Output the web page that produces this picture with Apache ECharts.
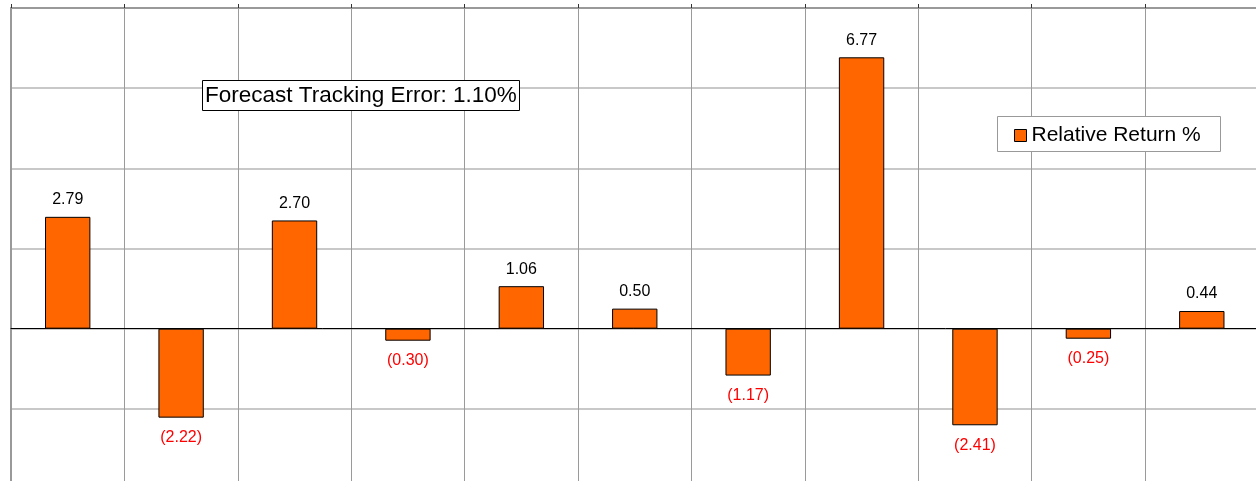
<!DOCTYPE html>
<html>
<head>
<meta charset="utf-8">
<script src="https://cdn.jsdelivr.net/npm/echarts@6/dist/echarts.min.js"></script>
<style>
  html, body { margin: 0; padding: 0; background: #fff; }
  #chart { width: 1256px; height: 481px; }
</style>
</head>
<body>
<div id="chart"></div>
<script>
// 数据
var categories = ["1", "2", "3", "4", "5", "6", "7", "8", "9", "10", "11"];
var relativeReturn = [2.79, -2.22, 2.70, -0.30, 1.06, 0.50, -1.17, 6.77, -2.41, -0.25, 0.44];
var trackingErrorText = "Forecast Tracking Error: 1.10%";

var fontFamily = "Liberation Sans, Arial, sans-serif";

// 负值：红色、括号、标签在下面
var barData = relativeReturn.map(function (v) {
  var neg = v < 0;
  return {
    value: v,
    label: {
      position: neg ? "bottom" : "top",
      distance: neg ? 12 : 9,
      color: neg ? "#ff0000" : "#000",
      formatter: neg ? "(" + Math.abs(v).toFixed(2) + ")" : v.toFixed(2)
    }
  };
});

var myChart = echarts.init(document.getElementById("chart"));
myChart.setOption({
  animation: false,
  title: {
    text: trackingErrorText,
    left: 202,
    top: 80,
    padding: [4, 3, 4, 3],
    borderColor: "#000",
    borderWidth: 1,
    backgroundColor: "#fff",
    textStyle: { fontFamily: fontFamily, fontSize: 22.5, fontWeight: "normal", color: "#000" }
  },
  // 图例边框
  graphic: [
    {
      type: "rect",
      z: 90,
      shape: { x: 997.5, y: 116.5, width: 223, height: 35 },
      style: { fill: "#fff", stroke: "#999", lineWidth: 1 }
    }
  ],
  legend: {
    data: ["Relative Return %"],
    left: 1014,
    top: 125,
    padding: 0,
    z: 100,
    icon: "rect",
    itemWidth: 12,
    itemHeight: 12,
    itemStyle: { borderColor: "#000", borderWidth: 1 },
    textStyle: { fontFamily: fontFamily, fontSize: 21, color: "#000" }
  },
  grid: {
    left: 11,
    top: 8,
    width: 1247.5,
    height: 481,
    outerBoundsMode: "none"
  },
  xAxis: [
    {
      type: "category",
      data: categories,
      position: "bottom",
      axisLine: { onZero: true, lineStyle: { color: "#000", width: 1 } },
      axisTick: { show: false },
      axisLabel: { show: false },
      splitLine: { show: true, lineStyle: { color: "#9a9a9a", width: 1 } }
    },
    {
      type: "category",
      data: categories,
      position: "top",
      axisLine: { onZero: false, lineStyle: { color: "#999", width: 2 } },
      axisTick: { show: true, length: 4, lineStyle: { color: "#333" } },
      axisLabel: { show: false },
      splitLine: { show: false }
    }
  ],
  yAxis: {
    type: "value",
    min: -4,
    max: 8,
    interval: 2,
    axisLine: { show: true, lineStyle: { color: "#999", width: 2 } },
    axisTick: { show: false },
    axisLabel: { show: false },
    splitLine: { show: true, lineStyle: { color: "#c8c8c8", width: 2 } }
  },
  series: [
    {
      name: "Relative Return %",
      type: "bar",
      xAxisIndex: 0,
      data: barData,
      barWidth: "40%",
      itemStyle: { color: "#ff6600", borderColor: "#000", borderWidth: 1 },
      label: {
        show: true,
        fontFamily: fontFamily,
        fontSize: 16
      }
    }
  ]
});
</script>
</body>
</html>
